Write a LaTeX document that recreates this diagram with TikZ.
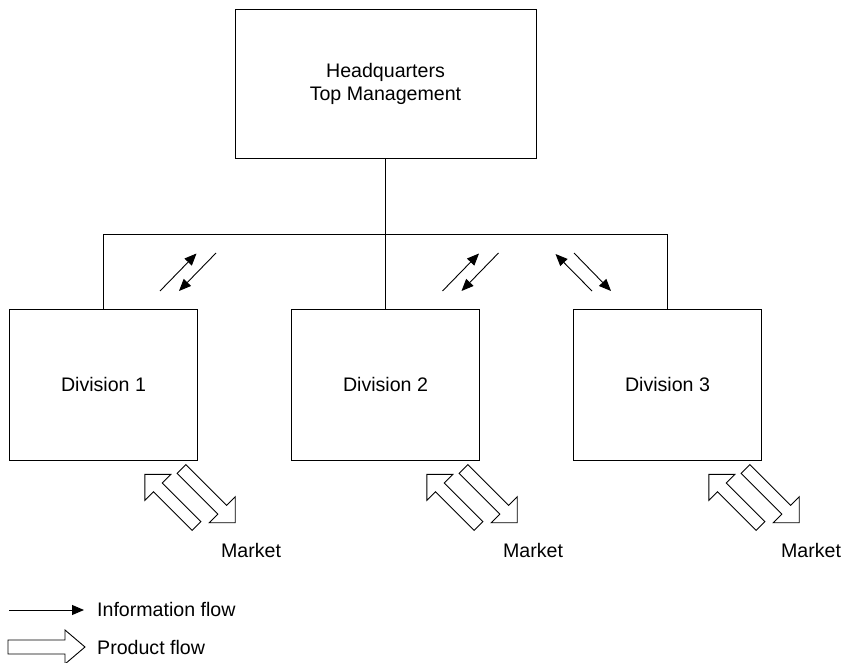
\documentclass[tikz,border=0pt]{standalone}
\usepackage{fontspec}
\setmainfont{Liberation Sans}
\usetikzlibrary{arrows.meta}

\tikzset{
  label text/.style={font=\fontsize{19.6}{23}\selectfont, inner sep=0pt},
  orgbox/.style={draw, line width=0.9pt, inner sep=0pt, align=center, label text},
  unitbox/.style={orgbox, minimum width=188pt, minimum height=151pt},
  tie/.style={line width=0.9pt},
  infoflow/.style={line width=0.9pt, -{Triangle[length=12pt,width=10pt]}},
  prodline/.style={draw, line width=0.9pt, fill=white, line join=miter},
  % hollow block arrow along +x: length, shaft half width, head half width, head length
  pics/blockarrow/.style n args={4}{code={
    \draw[prodline] (0pt,-#2) -- ({#1-#4},-#2) -- ({#1-#4},-#3) -- (#1,0pt)
      -- ({#1-#4},#3) -- ({#1-#4},#2) -- (0pt,#2) -- cycle;
  }}
}

\begin{document}
\begin{tikzpicture}[x=1pt,y=-1pt]
\useasboundingbox (0,0) rectangle (843,663);

% head office
\node[orgbox, minimum width=301pt, minimum height=149pt] (hq) at (385.5,83.5)
  {Headquarters\\Top Management};

% divisions
\node[unitbox] (d1) at (103.5,384.5) {Division 1};
\node[unitbox] (d2) at (385.5,384.5) {Division 2};
\node[unitbox] (d3) at (667.5,384.5) {Division 3};

% reporting lines
\coordinate (busL) at (103.5,234);
\coordinate (busR) at (667.5,234);
\draw[tie] (d1.north) -- (busL) -- (busR) -- (d3.north);
\draw[tie] (hq.south) -- (d2.north);

% information exchange
\coordinate (i1a) at (160,291);   \coordinate (i1b) at (196.5,253.5);
\coordinate (i1c) at (216,253);   \coordinate (i1d) at (179,291);
\coordinate (i2a) at (442.5,291); \coordinate (i2b) at (479,253.5);
\coordinate (i2c) at (498.5,253); \coordinate (i2d) at (461.5,291);
\coordinate (i3a) at (592,291);   \coordinate (i3b) at (555.5,254);
\coordinate (i3c) at (574,253);   \coordinate (i3d) at (611,291);
\draw[infoflow] (i1a) -- (i1b);
\draw[infoflow] (i1c) -- (i1d);
\draw[infoflow] (i2a) -- (i2b);
\draw[infoflow] (i2c) -- (i2d);
\draw[infoflow] (i3a) -- (i3b);
\draw[infoflow] (i3c) -- (i3d);

% product exchange with the markets
\foreach \r in {197.5, 479.5, 761.5}{
  \pic[rotate=135] at ({\r-1},526) {blockarrow={73pt}{6.2pt}{18.4pt}{18.4pt}};
  \pic[rotate=-45] at ({\r-16},469) {blockarrow={76pt}{6.2pt}{18.4pt}{18.4pt}};
}
\node[label text] (m1) at (251,550.5) {Market};
\node[label text] (m2) at (533,550.5) {Market};
\node[label text] (m3) at (811,550.5) {Market};

% legend
\coordinate (lgA) at (9,610);
\coordinate (lgB) at (84,610);
\draw[infoflow] (lgA) -- (lgB);
\node[label text, anchor=west] (lginfo) at (97,609.5) {Information flow};
\pic at (8,647) {blockarrow={77pt}{7pt}{17pt}{20pt}};
\node[label text, anchor=west] (lgprod) at (97,647) {Product flow};
\end{tikzpicture}
\end{document}
